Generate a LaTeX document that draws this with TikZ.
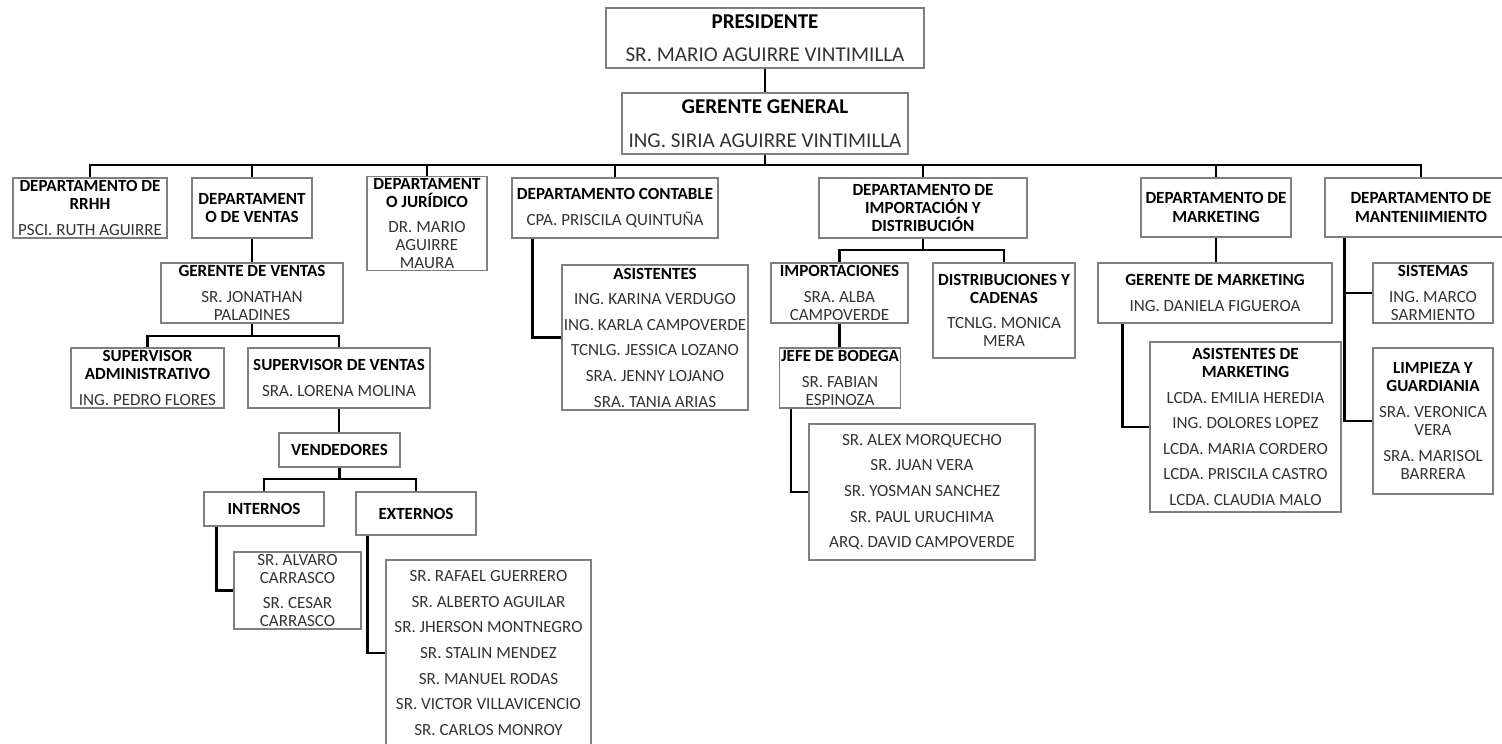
\documentclass[tikz,border=0pt]{standalone}
\usepackage{fontspec}
\setmainfont{Carlito}
\usepackage{tikz}
\usepackage{xcolor}
\definecolor{borde}{HTML}{7F7F7F}
\definecolor{nombre}{HTML}{333333}
% unidad: un pixel del organigrama
\def\upx{0.02cm}
\newcommand{\cargo}[1]{\textcolor{black}{\bfseries #1}}
\newcommand{\salto}{\\[0.15cm]}

\begin{document}
\begin{tikzpicture}[x=0.02cm, y=-0.02cm,
    caja/.style={draw=borde, line width=0.6pt, align=center, inner sep=1pt,
        text=nombre, font=\fontsize{9.7}{10.3}\selectfont},
    grande/.style={caja, font=\fontsize{12}{12.5}\selectfont},
    linea/.style={draw=black, line width=1.2pt}]
    \useasboundingbox (0,0) rectangle (1502,744);

    % Presidencia y gerencia general
    \node[grande, minimum width=318*\upx, minimum height=60*\upx] (presidente) at (765,38)
        {\cargo{PRESIDENTE}\\[0.23cm] SR. MARIO AGUIRRE VINTIMILLA};
    \node[grande, minimum width=286*\upx, minimum height=61*\upx] (gerente) at (765,123.5)
        {\cargo{GERENTE GENERAL}\\[0.23cm] ING. SIRIA AGUIRRE VINTIMILLA};

    % Departamentos
    \node[caja, minimum width=154*\upx, minimum height=60*\upx] (rrhh) at (90,208)
        {\cargo{DEPARTAMENTO DE}\\\cargo{RRHH}\salto PSCI. RUTH AGUIRRE};
    \node[caja, minimum width=120*\upx, minimum height=60*\upx] (ventas) at (252,208)
        {\cargo{DEPARTAMENT}\\\cargo{O DE VENTAS}};
    \node[caja, minimum width=120*\upx, minimum height=93*\upx] (juridico) at (427,223.5)
        {\cargo{DEPARTAMENT}\\\cargo{O JURÍDICO}\salto DR. MARIO\\AGUIRRE\\MAURA};
    \node[caja, minimum width=206*\upx, minimum height=60*\upx] (contable) at (615,208)
        {\cargo{DEPARTAMENTO CONTABLE}\salto CPA. PRISCILA QUINTUÑA};
    \node[caja, minimum width=208*\upx, minimum height=60*\upx] (importacion) at (923,208)
        {\cargo{DEPARTAMENTO DE}\\\cargo{IMPORTACIÓN Y}\\\cargo{DISTRIBUCIÓN}};
    \node[caja, minimum width=150*\upx, minimum height=59*\upx] (marketing) at (1216,207.5)
        {\cargo{DEPARTAMENTO DE}\\\cargo{MARKETING}};
    \node[caja, minimum width=192*\upx, minimum height=59*\upx] (mantenimiento) at (1421,207.5)
        {\cargo{DEPARTAMENTO DE}\\\cargo{MANTENIIMIENTO}};

    % Rama de ventas
    \node[caja, minimum width=182*\upx, minimum height=60*\upx] (gventas) at (252,293)
        {\cargo{GERENTE DE VENTAS}\salto SR. JONATHAN\\PALADINES};
    \node[caja, minimum width=153*\upx, minimum height=60*\upx] (supadm) at (147.5,378)
        {\cargo{SUPERVISOR}\\\cargo{ADMINISTRATIVO}\salto ING. PEDRO FLORES};
    \node[caja, minimum width=182*\upx, minimum height=60*\upx] (supven) at (339,378)
        {\cargo{SUPERVISOR DE VENTAS}\salto SRA. LORENA MOLINA};
    \node[caja, minimum width=121*\upx, minimum height=34*\upx] (vendedores) at (339.5,450)
        {\cargo{VENDEDORES}};
    \node[caja, minimum width=120*\upx, minimum height=34*\upx] (internos) at (264,509)
        {\cargo{INTERNOS}};
    \node[caja, minimum width=120*\upx, minimum height=43*\upx] (externos) at (416,513.5)
        {\cargo{EXTERNOS}};
    \node[caja, minimum width=127*\upx, minimum height=77*\upx] (internosl) at (297.5,590.5)
        {SR. ALVARO\\CARRASCO\salto SR. CESAR\\CARRASCO};
    \node[caja, minimum width=205*\upx, minimum height=186*\upx] (externosl) at (488.5,653)
        {SR. RAFAEL GUERRERO\salto SR. ALBERTO AGUILAR\salto SR. JHERSON MONTNEGRO\salto
         SR. STALIN MENDEZ\salto SR. MANUEL RODAS\salto SR. VICTOR VILLAVICENCIO\salto
         SR. CARLOS MONROY};

    % Rama contable
    \node[caja, minimum width=184*\upx, minimum height=145*\upx] (asistentes) at (655,337.5)
        {\cargo{ASISTENTES}\salto ING. KARINA VERDUGO\salto ING. KARLA CAMPOVERDE\salto
         TCNLG. JESSICA LOZANO\salto SRA. JENNY LOJANO\salto SRA. TANIA ARIAS};

    % Rama de importacion
    \node[caja, minimum width=137*\upx, minimum height=60*\upx] (importaciones) at (839.5,293)
        {\cargo{IMPORTACIONES}\salto SRA. ALBA\\CAMPOVERDE};
    \node[caja, minimum width=142*\upx, minimum height=95*\upx] (distribuciones) at (1004,310.5)
        {\cargo{DISTRIBUCIONES Y}\\\cargo{CADENAS}\salto TCNLG. MONICA\\MERA};
    \node[caja, minimum width=120*\upx, minimum height=60*\upx] (jefe) at (840,378)
        {\cargo{JEFE DE BODEGA}\salto SR. FABIAN\\ESPINOZA};
    \node[caja, minimum width=226*\upx, minimum height=136*\upx] (bodega) at (922,492)
        {SR. ALEX MORQUECHO\salto SR. JUAN VERA\salto SR. YOSMAN SANCHEZ\salto
         SR. PAUL URUCHIMA\salto ARQ. DAVID CAMPOVERDE};

    % Rama de marketing
    \node[caja, minimum width=234*\upx, minimum height=60*\upx] (gmarketing) at (1215,293)
        {\cargo{GERENTE DE MARKETING}\salto ING. DANIELA FIGUEROA};
    \node[caja, minimum width=191*\upx, minimum height=170*\upx] (asmarketing) at (1245.5,427)
        {\cargo{ASISTENTES DE}\\\cargo{MARKETING}\salto LCDA. EMILIA HEREDIA\salto
         ING. DOLORES LOPEZ\salto LCDA. MARIA CORDERO\salto LCDA. PRISCILA CASTRO\salto
         LCDA. CLAUDIA MALO};

    % Rama de mantenimiento
    \node[caja, minimum width=120*\upx, minimum height=60*\upx] (sistemas) at (1433,293)
        {\cargo{SISTEMAS}\salto ING. MARCO\\SARMIENTO};
    \node[caja, minimum width=120*\upx, minimum height=146*\upx] (limpieza) at (1433,421)
        {\cargo{LIMPIEZA Y}\\\cargo{GUARDIANIA}\salto SRA. VERONICA\\VERA\salto
         SRA. MARISOL\\BARRERA};

    % Conectores
    \coordinate (bus) at (0,165);
    \coordinate (bventas) at (0,336);
    \coordinate (bvend) at (0,479);
    \coordinate (bimp) at (0,250);

    \draw[linea] (presidente) -- (gerente);
    \foreach \d in {rrhh,ventas,juridico,contable,importacion,marketing,mantenimiento}
        \draw[linea] (gerente.south) -- (gerente.south |- bus) -| (\d.north);

    \draw[linea] (ventas.south) -- (ventas.south |- gventas.north);
    \foreach \d in {supadm,supven}
        \draw[linea] (gventas.south) -- (gventas.south |- bventas) -| (\d.north);
    \draw[linea] (supven.south) -- (supven.south |- vendedores.north);
    \foreach \d in {internos,externos}
        \draw[linea] (vendedores.south) -- (vendedores.south |- bvend) -| (\d.north);
    \draw[linea] ([xshift=13*\upx]internos.south west) |- (internosl.west);
    \draw[linea] ([xshift=12*\upx]externos.south west) |- (externosl.west);

    \draw[linea] ([xshift=21*\upx]contable.south west) |- (asistentes.west);

    \foreach \d in {importaciones,distribuciones}
        \draw[linea] (importacion.south) -- (importacion.south |- bimp) -| (\d.north);
    \draw[linea] (importaciones.south) -- (importaciones.south |- jefe.north);
    \draw[linea] ([xshift=12*\upx]jefe.south west) |- (bodega.west);

    \draw[linea] (marketing.south) -- (marketing.south |- gmarketing.north);
    \draw[linea] ([xshift=25*\upx]gmarketing.south west) |- (asmarketing.west);

    \foreach \d in {sistemas,limpieza}
        \draw[linea] ([xshift=20*\upx]mantenimiento.south west) |- (\d.west);
\end{tikzpicture}
\end{document}
